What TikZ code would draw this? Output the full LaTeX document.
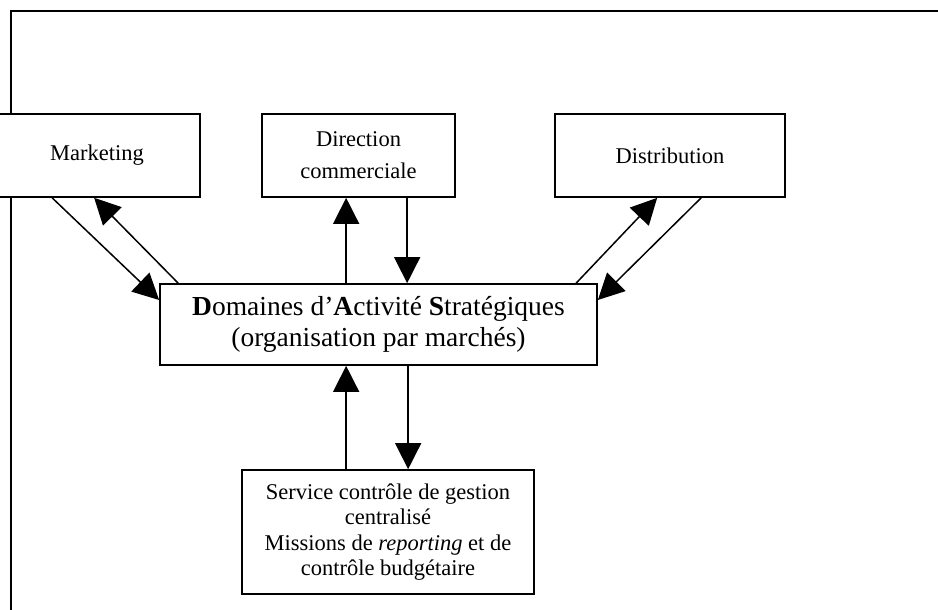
\documentclass[tikz,border=0pt]{standalone}
\usepackage{fontspec}
\setmainfont{Liberation Serif}
\usetikzlibrary{arrows.meta}

\begin{document}
\begin{tikzpicture}[x=1pt,y=-1pt,
  box/.style={draw,line width=1.7pt,fill=white,inner sep=0pt,align=center},
  small/.style={font=\fontsize{22.5}{25.5}\selectfont},
  big/.style={font=\fontsize{27.5}{31}\selectfont},
  arr/.style={line width=1.5pt,-{Triangle[length=26pt,width=26pt]}}]
\useasboundingbox (0,0) rectangle (938,610);
\clip (0,0) rectangle (938,610);

% outer frame (open to the right and bottom)
\draw[line width=1.7pt] (11,610) -- (11,11) -- (940,11);

% department boxes
\node[box,small,minimum width=206pt,minimum height=83pt] (mkt) at (97,155.5) {Marketing};
\node[box,small,minimum width=193pt,minimum height=83pt,font=\fontsize{22.5}{32}\selectfont] (dir) at (358.5,155.5) {Direction\\commerciale};
\node[box,small,minimum width=230pt,minimum height=83pt] (dist) at (670,155.5) {Distribution};

% strategic business units
\node[box,big,minimum width=437pt,minimum height=81pt] (das) at (378.5,324.5)
  {\textbf{D}omaines d’\textbf{A}ctivité \textbf{S}tratégiques\\(organisation par marchés)};

% central management control
\node[box,small,minimum width=292pt,minimum height=124pt] (svc) at (388,532)
  {Service contrôle de gestion\\centralisé\\Missions de \textit{reporting} et de\\contrôle budgétaire};

% connection points
\coordinate (m1) at ([xshift=59pt]mkt.south west);
\coordinate (m2) at ([xshift=101pt]mkt.south west);
\coordinate (s1) at ([xshift=19pt]das.north west);
\coordinate (s2) at ([xshift=417pt]das.north west);
\coordinate (dl) at ([yshift=24.5pt]das.west);
\coordinate (dr) at ([yshift=24.5pt]das.east);
\coordinate (c1) at ([xshift=85pt]dir.south west);
\coordinate (c2) at ([xshift=146pt]dir.south west);
\coordinate (t1) at ([xshift=103pt]dist.south west);
\coordinate (t2) at ([xshift=147pt]dist.south west);
\coordinate (v1) at ([xshift=105pt]svc.north west);
\coordinate (v2) at ([xshift=167pt]svc.north west);

% Marketing <-> DAS
\draw[arr] (m1) -- (dl);
\draw[arr] (s1) -- (m2);
% Direction commerciale <-> DAS
\draw[arr] (c1 |- das.north) -- (c1);
\draw[arr] (c2) -- (c2 |- das.north);
% Distribution <-> DAS
\draw[arr] (s2) -- (t1);
\draw[arr] (t2) -- (dr);
% Service controle de gestion <-> DAS
\draw[arr] (v1) -- (v1 |- das.south);
\draw[arr] (v2 |- das.south) -- (v2);
\end{tikzpicture}
\end{document}
